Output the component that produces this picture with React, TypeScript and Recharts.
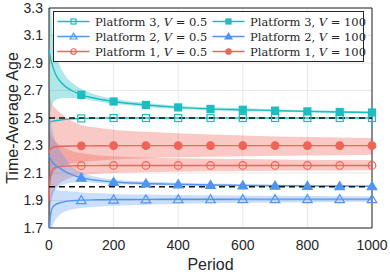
import React from 'react'
import {
  ComposedChart,
  Line,
  Area,
  XAxis,
  YAxis,
  CartesianGrid,
  ReferenceLine,
  ReferenceArea,
} from 'recharts'

// period samples (denser near 0 where the curves bend)
const periods = [0, 2, 5, 10, 20, 30, 50, 70, 100, 150, 200, 300, 400, 500, 600, 700, 800, 900, 1000]

// Platform 3
const p3Slow = [2.47, 2.47, 2.472, 2.475, 2.48, 2.484, 2.49, 2.494, 2.497, 2.499, 2.5, 2.5, 2.5, 2.5, 2.5, 2.5, 2.5, 2.5, 2.5]
const p3Fast = [3.0, 2.97, 2.93, 2.89, 2.82, 2.78, 2.73, 2.7, 2.668, 2.64, 2.62, 2.595, 2.577, 2.566, 2.56, 2.554, 2.548, 2.544, 2.54]
const p3FastLo = [2.45, 2.5, 2.55, 2.6, 2.63, 2.64, 2.645, 2.645, 2.64, 2.62, 2.603, 2.58, 2.565, 2.555, 2.55, 2.545, 2.54, 2.536, 2.532]
const p3FastHi = [3.6, 3.5, 3.35, 3.15, 2.97, 2.9, 2.81, 2.76, 2.712, 2.665, 2.64, 2.61, 2.59, 2.578, 2.571, 2.564, 2.557, 2.552, 2.548]

// Platform 2
const p2Slow = [1.4, 1.7, 1.8, 1.845, 1.87, 1.88, 1.892, 1.898, 1.903, 1.905, 1.907, 1.908, 1.909, 1.909, 1.91, 1.91, 1.91, 1.91, 1.91]
const p2SlowLo = [1.1, 1.4, 1.6, 1.7, 1.76, 1.79, 1.82, 1.835, 1.845, 1.855, 1.862, 1.87, 1.876, 1.88, 1.883, 1.886, 1.888, 1.89, 1.891]
const p2SlowHi = [1.7, 1.85, 1.93, 1.97, 1.98, 1.975, 1.97, 1.965, 1.958, 1.952, 1.948, 1.943, 1.94, 1.938, 1.936, 1.934, 1.932, 1.931, 1.93]
const p2Fast = [2.23, 2.22, 2.2, 2.18, 2.155, 2.14, 2.11, 2.088, 2.066, 2.046, 2.035, 2.024, 2.018, 2.013, 2.01, 2.008, 2.006, 2.005, 2.004]
const p2FastLo = [1.8, 1.85, 1.9, 1.94, 1.98, 2.0, 2.02, 2.03, 2.035, 2.028, 2.02, 2.012, 2.008, 2.005, 2.002, 2.0, 1.999, 1.998, 1.997]
const p2FastHi = [2.7, 2.6, 2.5, 2.42, 2.33, 2.28, 2.21, 2.15, 2.105, 2.07, 2.052, 2.038, 2.03, 2.023, 2.019, 2.016, 2.014, 2.012, 2.011]

// Platform 1
const p1Slow = [1.9, 2.02, 2.08, 2.12, 2.14, 2.146, 2.15, 2.152, 2.153, 2.154, 2.155, 2.155, 2.155, 2.155, 2.155, 2.155, 2.155, 2.155, 2.155]
const p1SlowLo = [1.6, 1.75, 1.85, 1.93, 1.99, 2.02, 2.05, 2.07, 2.085, 2.095, 2.1, 2.105, 2.11, 2.113, 2.115, 2.117, 2.118, 2.119, 2.12]
const p1SlowHi = [2.4, 2.4, 2.38, 2.36, 2.33, 2.31, 2.28, 2.26, 2.245, 2.23, 2.222, 2.213, 2.208, 2.204, 2.201, 2.199, 2.197, 2.195, 2.194]
const p1Fast = [2.24, 2.26, 2.275, 2.285, 2.29, 2.293, 2.295, 2.296, 2.297, 2.298, 2.299, 2.299, 2.299, 2.299, 2.299, 2.299, 2.299, 2.299, 2.299]
const p1FastLo = [1.85, 1.95, 2.02, 2.08, 2.12, 2.14, 2.16, 2.17, 2.18, 2.19, 2.198, 2.208, 2.214, 2.218, 2.222, 2.225, 2.228, 2.23, 2.232]
const p1FastHi = [2.75, 2.68, 2.63, 2.6, 2.57, 2.55, 2.51, 2.48, 2.45, 2.43, 2.415, 2.4, 2.39, 2.38, 2.372, 2.366, 2.362, 2.358, 2.355]

const xTicks = [0, 200, 400, 600, 800, 1000]
const yTicks = [1.7, 1.9, 2.1, 2.3, 2.5, 2.7, 2.9, 3.1, 3.3]
const targets = [2.5, 2.0]

const CYAN = '#1cbdbf'
const BLUE = '#4f95f2'
const RED = '#ef6459'
const INK = '#262626'

const data = periods.map((period, i) => ({
  period,
  p3Slow: p3Slow[i],
  p3Fast: p3Fast[i],
  p3FastBand: [p3FastLo[i], p3FastHi[i]],
  p2Slow: p2Slow[i],
  p2SlowBand: [p2SlowLo[i], p2SlowHi[i]],
  p2Fast: p2Fast[i],
  p2FastBand: [p2FastLo[i], p2FastHi[i]],
  p1Slow: p1Slow[i],
  p1SlowBand: [p1SlowLo[i], p1SlowHi[i]],
  p1Fast: p1Fast[i],
  p1FastBand: [p1FastLo[i], p1FastHi[i]],
}))

type Shape = 'square' | 'triangle' | 'circle'

function Marker({ shape, cx, cy, color, filled, s = 1 }: { shape: Shape; cx: number; cy: number; color: string; filled: boolean; s?: number }) {
  const fill = filled ? color : 'none'
  if (shape === 'square') {
    return <rect x={cx - 3.5 * s} y={cy - 3.5 * s} width={7 * s} height={7 * s} fill={fill} stroke={color} strokeWidth={1.2} />
  }
  if (shape === 'triangle') {
    return (
      <polygon
        points={`${cx},${cy - 4.5 * s} ${cx - 4.8 * s},${cy + 3.5 * s} ${cx + 4.8 * s},${cy + 3.5 * s}`}
        fill={fill}
        stroke={color}
        strokeWidth={1.2}
      />
    )
  }
  return <circle cx={cx} cy={cy} r={3.8 * s} fill={fill} stroke={color} strokeWidth={1.2} />
}

// markers only every 100 periods, like the original
const markerDot = (shape: Shape, color: string, filled: boolean) => (props: any) => {
  const { cx, cy, payload, index } = props
  if (!payload || payload.period === 0 || payload.period % 100 !== 0) return <g key={index} />
  return (
    <g key={index}>
      <Marker shape={shape} cx={cx} cy={cy} color={color} filled={filled} />
    </g>
  )
}

const legendItems = [
  { name: 'Platform 3', v: '0.5', shape: 'square' as Shape, color: CYAN, filled: false },
  { name: 'Platform 3', v: '100', shape: 'square' as Shape, color: CYAN, filled: true },
  { name: 'Platform 2', v: '0.5', shape: 'triangle' as Shape, color: BLUE, filled: false },
  { name: 'Platform 2', v: '100', shape: 'triangle' as Shape, color: BLUE, filled: true },
  { name: 'Platform 1', v: '0.5', shape: 'circle' as Shape, color: RED, filled: false },
  { name: 'Platform 1', v: '100', shape: 'circle' as Shape, color: RED, filled: true },
]

function ChartLegend() {
  return (
    <div
      style={{
        position: 'absolute',
        left: 53,
        top: 11,
        width: 311,
        height: 51,
        border: `1px solid ${INK}`,
        background: '#fff',
        boxSizing: 'border-box',
        display: 'grid',
        gridTemplateColumns: '155px 154px',
        gridAutoRows: '15px',
        paddingTop: 2,
        fontFamily: '"DejaVu Serif", "Liberation Serif", serif',
        fontSize: 11.5,
        color: INK,
      }}
    >
      {legendItems.map((it, i) => (
        <div key={i} style={{ display: 'flex', alignItems: 'center', height: 15 }}>
          <svg width={38} height={15} style={{ flex: 'none', marginLeft: 3 }}>
            <line x1={0.5} x2={32.5} y1={7.5} y2={7.5} stroke={it.color} strokeWidth={1.6} />
            <Marker shape={it.shape} cx={16.5} cy={7.5} color={it.color} filled={it.filled} s={0.72} />
          </svg>
          <span style={{ whiteSpace: 'nowrap' }}>
            {it.name}, <i>V</i> = {it.v}
          </span>
        </div>
      ))}
    </div>
  )
}

export default function App() {
  const tickStyle = { fontSize: 14, fill: INK, fontFamily: '"Liberation Sans", Arial, sans-serif' }
  const innerTick = { stroke: INK, strokeWidth: 1 }
  return (
    <div style={{ position: 'absolute', left: 0, top: 0, width: 390, height: 274, background: '#fff' }}>
      <ComposedChart width={390} height={274} data={data} margin={{ top: 8, right: 18, bottom: 0, left: 0 }}>
        <CartesianGrid stroke="#e8e8e8" strokeWidth={1} />
        <XAxis
          dataKey="period"
          type="number"
          domain={[0, 1000]}
          ticks={xTicks}
          height={46}
          axisLine={false}
          tickLine={false}
          tickSize={4}
          tickMargin={8}
          tick={tickStyle}
          label={() => (
            <text
              x={210.5}
              y={270}
              textAnchor="middle"
              fontSize={16}
              fill={INK}
              fontFamily='"Liberation Sans", Arial, sans-serif'
            >
              Period
            </text>
          )}
        />
        <YAxis
          type="number"
          domain={[1.7, 3.3]}
          allowDataOverflow
          ticks={yTicks}
          width={49}
          axisLine={false}
          tickLine={false}
          tickSize={0}
          tickMargin={6}
          tick={tickStyle}
          tickFormatter={(v: number) => v.toFixed(1)}
          label={() => (
            <text
              x={12}
              y={118}
              transform="rotate(-90 12 118)"
              textAnchor="middle"
              dominantBaseline="central"
              fontSize={16}
              fill={INK}
              fontFamily='"Liberation Sans", Arial, sans-serif'
            >
              Time-Average Age
            </text>
          )}
        />
        {/* inward tick marks on all four sides of the box */}
        <XAxis xAxisId="bt" type="number" domain={[0, 1000]} ticks={xTicks} orientation="bottom" mirror height={0} axisLine={false} tick={false} tickLine={innerTick} tickSize={3} />
        <XAxis xAxisId="tp" type="number" domain={[0, 1000]} ticks={xTicks} orientation="top" mirror height={0} axisLine={false} tick={false} tickLine={innerTick} tickSize={3} />
        <YAxis yAxisId="lt" type="number" domain={[1.7, 3.3]} ticks={yTicks} orientation="left" mirror width={0} axisLine={false} tick={false} tickLine={innerTick} tickSize={3} />
        <YAxis yAxisId="rt" type="number" domain={[1.7, 3.3]} ticks={yTicks} orientation="right" mirror width={0} axisLine={false} tick={false} tickLine={innerTick} tickSize={3} />

        <Area dataKey="p1FastBand" type="monotone" stroke="none" fill={RED} fillOpacity={0.35} isAnimationActive={false} activeDot={false} />
        <Area dataKey="p1SlowBand" type="monotone" stroke="none" fill={RED} fillOpacity={0.35} isAnimationActive={false} activeDot={false} />
        <Area dataKey="p2FastBand" type="monotone" stroke="none" fill={BLUE} fillOpacity={0.3} isAnimationActive={false} activeDot={false} />
        <Area dataKey="p2SlowBand" type="monotone" stroke="none" fill={BLUE} fillOpacity={0.3} isAnimationActive={false} activeDot={false} />
        <Area dataKey="p3FastBand" type="monotone" stroke="none" fill={CYAN} fillOpacity={0.35} isAnimationActive={false} activeDot={false} />

        <Line dataKey="p1Slow" type="monotone" stroke={RED} strokeWidth={1.4} dot={markerDot('circle', RED, false)} activeDot={false} isAnimationActive={false} />
        <Line dataKey="p1Fast" type="monotone" stroke={RED} strokeWidth={1.4} dot={markerDot('circle', RED, true)} activeDot={false} isAnimationActive={false} />
        <Line dataKey="p2Slow" type="monotone" stroke={BLUE} strokeWidth={1.4} dot={markerDot('triangle', BLUE, false)} activeDot={false} isAnimationActive={false} />
        <Line dataKey="p2Fast" type="monotone" stroke={BLUE} strokeWidth={1.4} dot={markerDot('triangle', BLUE, true)} activeDot={false} isAnimationActive={false} />
        <Line dataKey="p3Slow" type="monotone" stroke={CYAN} strokeWidth={1.4} dot={markerDot('square', CYAN, false)} activeDot={false} isAnimationActive={false} />
        <Line dataKey="p3Fast" type="monotone" stroke={CYAN} strokeWidth={1.4} dot={markerDot('square', CYAN, true)} activeDot={false} isAnimationActive={false} />

        {targets.map((t) => (
          <ReferenceLine key={t} y={t} stroke="#111" strokeWidth={1.5} strokeDasharray="6 4" />
        ))}
        <ReferenceArea x1={0} x2={1000} y1={1.7} y2={3.3} fill="none" stroke={INK} strokeWidth={1} />
      </ComposedChart>
      <ChartLegend />
    </div>
  )
}
